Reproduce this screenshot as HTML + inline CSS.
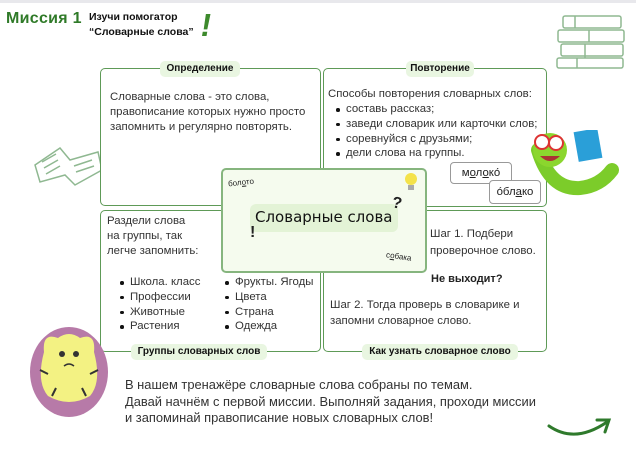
<!DOCTYPE html>
<html><head><meta charset="utf-8"><style>
*{margin:0;padding:0;box-sizing:border-box}
body{width:636px;height:452px;background:#fff;position:relative;overflow:hidden;font-family:"Liberation Sans","DejaVu Sans",sans-serif;color:#222}
.a{position:absolute}
.box{position:absolute;border:1.5px solid #5e9a57;border-radius:5px;background:#fff}
.tab{position:absolute;background:#e9f6e1;border-radius:5px;font-weight:bold;font-size:10px;text-align:center;line-height:16px;color:#111;white-space:nowrap;font-family:"Liberation Sans",sans-serif}
.t{font-size:11.4px;line-height:15px;color:#333;white-space:nowrap}
ul{list-style:none}
li{position:relative;padding-left:12px;font-size:11.4px;line-height:14.8px;color:#333;white-space:nowrap}
li:before{content:"";position:absolute;left:2px;top:6px;width:3.5px;height:3.5px;border-radius:50%;background:#111}
</style></head><body>
<div class="a" style="left:0;top:0;width:636px;height:3px;background:#e8e8ec"></div>
<div class="a" style="left:6px;top:10px;font-size:16px;font-weight:bold;color:#2f7a28;letter-spacing:0.3px">Миссия 1</div>
<div class="a" style="left:89px;top:10px;font-size:10.5px;font-weight:bold;line-height:15px;color:#111">Изучи помогатор<br>“Словарные слова”</div>
<div class="a" style="left:201px;top:9px;font-size:32px;font-weight:bold;color:#3d8a2c;transform:skewX(-10deg);line-height:32px">!</div>
<svg class="a" style="left:555px;top:12px" width="75" height="58" viewBox="0 0 75 58" fill="none" stroke="#8fb891" stroke-width="1.5">
<rect x="8" y="4" width="58" height="12" rx="2"/><rect x="3" y="18" width="66" height="12" rx="2"/><rect x="6" y="32" width="62" height="12" rx="2"/><rect x="2" y="46" width="66" height="10" rx="2"/>
<path d="M20 4v12M34 18v12M30 32v14M22 46v10"/></svg>
<svg class="a" style="left:30px;top:140px" width="75" height="50" viewBox="0 0 75 50" fill="none" stroke="#8fb891" stroke-width="1.5">
<path d="M5 25 L30 8 L40 20 L68 12 L72 30 L45 45 L35 35 L10 42 Z"/><path d="M12 22l14-8M14 28l14-8M16 34l14-8M44 26l18-6M46 32l18-6"/></svg>
<div class="box" style="left:100px;top:68px;width:221px;height:138px"></div>
<div class="box" style="left:323px;top:68px;width:224px;height:139px"></div>
<div class="box" style="left:100px;top:210px;width:221px;height:142px"></div>
<div class="box" style="left:323px;top:210px;width:224px;height:142px"></div>
<div class="tab" style="left:160px;top:61px;width:80px">Определение</div>
<div class="tab" style="left:406px;top:61px;width:68px">Повторение</div>
<div class="tab" style="left:131px;top:344px;width:136px">Группы словарных слов</div>
<div class="tab" style="left:362px;top:344px;width:156px">Как узнать словарное слово</div>
<div class="a t" style="left:110px;top:90px">Словарные слова - это слова,<br>правописание которых нужно просто<br>запомнить и регулярно повторять.</div>
<div class="a t" style="left:328px;top:87px">Способы повторения словарных слов:</div>
<ul class="a" style="left:334px;top:102px"><li>составь рассказ;</li><li>заведи словарик или карточки слов;</li><li>соревнуйся с друзьями;</li><li>дели слова на группы.</li></ul>
<div class="a" style="left:450px;top:162px;width:62px;height:22px;border:1px solid #999;border-radius:4px;background:#fff;font-size:11.4px;line-height:20px;text-align:center">м<u>о</u>л<u>о</u>ко́</div>
<div class="a" style="left:489px;top:180px;width:52px;height:24px;border:1px solid #999;border-radius:4px;background:#fff;font-size:11.4px;line-height:22px;text-align:center">о́бл<u>а</u>ко</div>
<svg class="a" style="left:520px;top:130px" width="100" height="70" viewBox="0 0 100 70">
<path d="M18 20 Q30 60 60 58 Q80 56 92 40" stroke="#7ccc2a" stroke-width="14" fill="none" stroke-linecap="round"/>
<circle cx="30" cy="20" r="17" fill="#8bd62e"/>
<circle cx="22" cy="12" r="7" fill="#fff" stroke="#d33" stroke-width="2"/><circle cx="36" cy="13" r="7" fill="#fff" stroke="#d33" stroke-width="2"/>
<path d="M20 26 Q30 36 40 26Z" fill="#a33"/>
<rect x="56" y="0" width="24" height="30" fill="#2a9fd8" transform="rotate(-10 68 15)"/>
</svg>
<div class="a t" style="left:107px;top:214px;line-height:14.8px">Раздели слова<br>на группы, так<br>легче запомнить:</div>
<ul class="a" style="left:118px;top:275px"><li>Школа. класс</li><li>Профессии</li><li>Животные</li><li>Растения</li></ul>
<ul class="a" style="left:223px;top:275px"><li>Фрукты. Ягоды</li><li>Цвета</li><li>Страна</li><li>Одежда</li></ul>
<div class="a t" style="left:430px;top:226px;line-height:16.5px">Шаг 1. Подбери<br>проверочное слово.</div>
<div class="a" style="left:431px;top:273px;font-size:11px;font-weight:bold">Не выходит?</div>
<div class="a t" style="left:330px;top:297px;line-height:16px">Шаг 2. Тогда проверь в словарике и<br>запомни словарное слово.</div>
<div class="a" style="left:221px;top:168px;width:206px;height:105px;background:#f5fbee;border:2px solid #86b57e;border-radius:5px"></div>
<div class="a" style="left:250px;top:204px;width:148px;height:28px;background:#e3f3d6;border-radius:6px"></div>
<div class="a" style="left:255px;top:208px;font-size:15px;font-family:'Comic Sans MS','DejaVu Sans',sans-serif;color:#111;white-space:nowrap">Словарные слова</div>
<div class="a" style="left:228px;top:178px;font-size:8px;transform:rotate(-6deg)">бол<u>о</u>то</div>
<div class="a" style="left:386px;top:252px;font-size:8px;transform:rotate(8deg)">с<u>о</u>бака</div>
<div class="a" style="left:392px;top:195px;font-size:16px;font-weight:bold;transform:rotate(10deg)">?</div>
<div class="a" style="left:250px;top:224px;font-size:16px;font-weight:bold">!</div>
<svg class="a" style="left:404px;top:172px" width="14" height="20"><circle cx="7" cy="7" r="6" fill="#f4e24a"/><rect x="4" y="13" width="6" height="5" fill="#aaa"/></svg>
<svg class="a" style="left:28px;top:322px" width="82" height="96" viewBox="0 0 82 96">
<ellipse cx="41" cy="50" rx="39" ry="45" fill="#b77aa8"/>
<path d="M16 30 Q14 10 30 16 Q41 8 52 16 Q68 10 66 30 Q74 60 62 74 Q41 86 20 74 Q8 60 16 30Z" fill="#f3f283"/>
<circle cx="34" cy="32" r="3" fill="#333"/><circle cx="48" cy="32" r="3" fill="#333"/>
<path d="M36 44 Q41 40 46 44" stroke="#333" fill="none" stroke-width="1.5"/>
<path d="M20 52 l-8 -4 M62 52 l8 -4 M28 66 l-4 8 M54 66 l4 8" stroke="#333" stroke-width="2"/>
</svg>
<div class="a" style="left:125px;top:377px;font-size:12.9px;line-height:16.5px;color:#333;white-space:nowrap">В нашем тренажёре словарные слова собраны по темам.<br>Давай начнём с первой миссии. Выполняй задания, проходи миссии<br>и запоминай правописание новых словарных слов!</div>
<svg class="a" style="left:545px;top:412px" width="70" height="30"><path d="M4 14 Q30 32 62 10" stroke="#2f7a2c" stroke-width="3" fill="none" stroke-linecap="round"/><path d="M52 8 L64 8 L60 20" stroke="#2f7a2c" stroke-width="3" fill="none" stroke-linecap="round"/></svg>
</body></html>
